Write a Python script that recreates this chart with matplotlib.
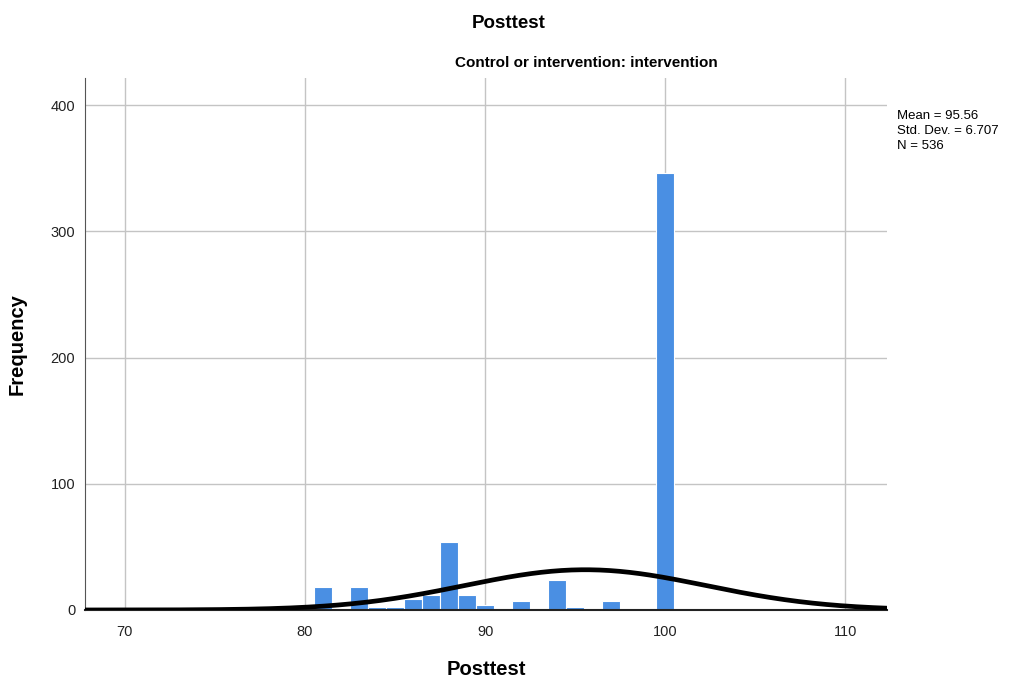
import matplotlib.pyplot as plt
import numpy as np

plt.rcParams['font.family'] = ['Liberation Sans', 'DejaVu Sans']

# histogram of posttest scores (one-point bins)
scores = [81, 83, 84, 85, 86, 87, 88, 89, 90, 92, 94, 95, 97, 100]
counts = [18, 18, 2, 2, 9, 12, 54, 12, 4, 7, 24, 2, 7, 346]

mean = 95.56
sd = 6.707
n = 536

fig = plt.figure(figsize=(10.17, 6.82), dpi=100)
ax = fig.add_axes([0.0836, 0.1056, 0.7885, 0.78])

ax.bar(scores, counts, width=1.0, color="#4A8FE3", edgecolor="white",
       linewidth=0.8, zorder=2)

# fitted normal curve scaled to counts
xs = np.linspace(67.8, 112.3, 400)
ys = n * 1.0 / (sd * np.sqrt(2 * np.pi)) * np.exp(-0.5 * ((xs - mean) / sd) ** 2)
ax.plot(xs, ys, color="black", linewidth=3.4, zorder=3)

ax.set_xlim(67.8, 112.3)
ax.set_ylim(0, 421.4)
ax.set_xticks([70, 80, 90, 100, 110])
ax.set_yticks([0, 100, 200, 300, 400])
ax.grid(True, color="#c4c4c4", linewidth=1.0, zorder=0)
ax.set_axisbelow(True)
ax.tick_params(length=0, labelsize=10.5, colors="#222222")
ax.tick_params(axis="x", pad=11)
ax.tick_params(axis="y", pad=7)

for s in ["top", "right"]:
    ax.spines[s].set_visible(False)
ax.spines["left"].set_color("#555555")
ax.spines["bottom"].set_color("#222222")
ax.spines["bottom"].set_linewidth(1.5)

ax.set_xlabel("Posttest", fontsize=14.5, fontweight="bold", labelpad=15)
ax.set_ylabel("Frequency", fontsize=14.5, fontweight="bold", labelpad=17)

fig.text(0.5, 0.965, "Posttest", ha="center", va="center",
         fontsize=13.5, fontweight="bold")
fig.text(0.577, 0.907, "Control or intervention: intervention", ha="center",
         va="center", fontsize=11, fontweight="bold")

fig.text(0.882, 0.838, f"Mean = {mean}\nStd. Dev. = {sd}\nN = {n}",
         ha="left", va="top", fontsize=9.5, linespacing=1.3)

fig.savefig("out.png", dpi=100)
